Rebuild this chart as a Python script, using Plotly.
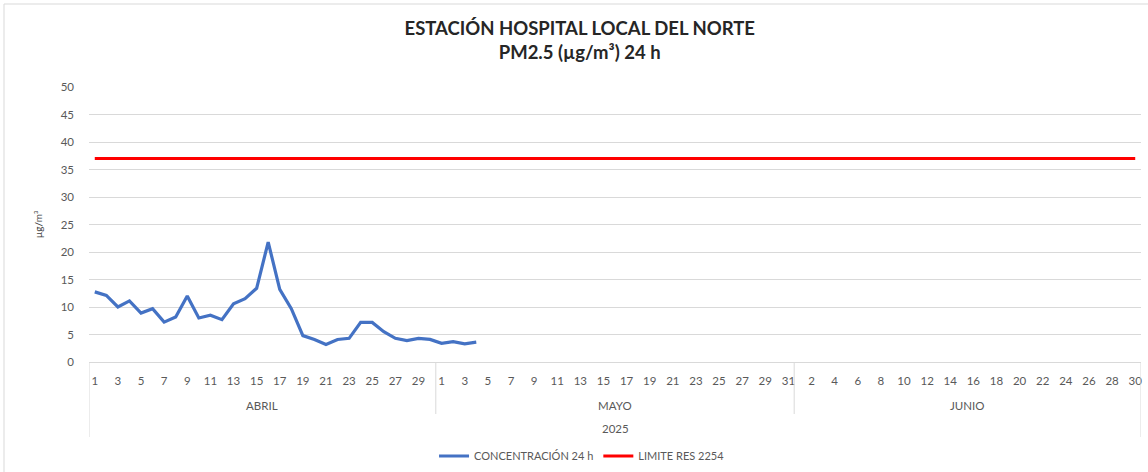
import plotly.graph_objects as go

# ---- data ----
YEAR = "2025"
MONTHS = ["ABRIL", "MAYO", "JUNIO"]
DAYS_IN_MONTH = [30, 31, 30]
CONC_ABRIL = [12.75, 12.1, 10.0, 11.1, 8.9, 9.7, 7.25, 8.2, 12.0, 8.0,
              8.5, 7.7, 10.6, 11.5, 13.4, 21.8, 13.2, 9.7, 4.8, 4.1,
              3.2, 4.1, 4.3, 7.2, 7.2, 5.5, 4.3, 3.9, 4.3, 4.1]
CONC_MAYO = [3.4, 3.7, 3.3, 3.6]
CONC_JUNIO = []
LIMIT_VALUE = 37

# ---- build category axis ----
cats, day_labels = [], []
for m, n in zip(MONTHS, DAYS_IN_MONTH):
    for d in range(1, n + 1):
        cats.append(f"{m}-{d}")
        day_labels.append(str(d))

conc = []
for vals, n in zip([CONC_ABRIL, CONC_MAYO, CONC_JUNIO], DAYS_IN_MONTH):
    conc += list(vals) + [None] * (n - len(vals))
limit = [LIMIT_VALUE] * len(cats)

FONT = "Lato"
GREY = "#595959"
GRID = "#d9d9d9"

fig = go.Figure()
fig.add_trace(go.Scatter(x=cats, y=conc, mode="lines", name="CONCENTRACIÓN 24 h",
                         line=dict(color="#4472C4", width=3.2), connectgaps=False))
fig.add_trace(go.Scatter(x=cats, y=limit, mode="lines", name="LIMITE RES 2254",
                         line=dict(color="#FF0000", width=3.2)))

W, H = 1148, 472
L, R, T, B = 89, 1148 - 1141, 87, 472 - 362
ph = H - T - B

def py(pix):
    return (H - B - pix) / ph

shapes = []
bounds = [-0.5]
acc = -0.5
for n in DAYS_IN_MONTH:
    acc += n
    bounds.append(acc)
for i, b in enumerate(bounds):
    outer = i == 0 or i == len(bounds) - 1
    shapes.append(dict(type="line", xref="x", yref="paper", x0=b, x1=b,
                       y0=0, y1=py(437) if outer else py(414),
                       line=dict(color=GRID, width=1)))
shapes.append(dict(type="rect", xref="paper", yref="paper",
                   x0=(4 - L) / (W - L - R), x1=1.05, y0=-0.6, y1=py(4),
                   line=dict(color=GRID, width=1)))

annotations = []
start = 0
for m, n in zip(MONTHS, DAYS_IN_MONTH):
    center = start + (n - 1) / 2
    annotations.append(dict(x=center, xref="x", y=py(405), yref="paper", text=m,
                            showarrow=False, font=dict(family=FONT, size=11.5, color=GREY),
                            yanchor="middle"))
    start += n
annotations.append(dict(x=(len(cats) - 1) / 2, xref="x", y=py(428), yref="paper", text=YEAR,
                        showarrow=False, font=dict(family=FONT, size=11.5, color=GREY),
                        yanchor="middle"))

fig.update_layout(
    width=W, height=H,
    margin=dict(l=L, r=R, t=T, b=B),
    paper_bgcolor="white", plot_bgcolor="white",
    title=dict(text="<b>ESTACIÓN HOSPITAL LOCAL DEL NORTE<br>PM2.5 (µg/m³) 24 h</b>",
               x=0.505, xanchor="center", xref="container",
               y=1 - 35 / H, yanchor="middle", yref="container",
               font=dict(family=FONT, size=18.5, color="#262626")),
    xaxis=dict(type="category", categoryorder="array", categoryarray=cats,
               tickmode="array", tickvals=cats[::2], ticktext=day_labels[::2],
               tickfont=dict(family=FONT, size=11.5, color=GREY), tickangle=0,
               showgrid=False, showline=True, linecolor=GRID, linewidth=1,
               ticks="", ticklabelstandoff=8, range=[-0.5, len(cats) - 0.5]),
    yaxis=dict(range=[0, 50], dtick=5, tickfont=dict(family=FONT, size=11.5, color=GREY),
               gridcolor=GRID, gridwidth=1, zeroline=False, showline=False,
               ticks="", ticklabelstandoff=14,
               title=dict(text="µg/m³", font=dict(family=FONT, size=10, color="#404040"),
                          standoff=16)),
    legend=dict(orientation="h", xref="container", yref="container",
                x=0.507, xanchor="center", y=1 - 456 / H, yanchor="middle",
                font=dict(family=FONT, size=11, color=GREY), itemwidth=30,
                traceorder="normal"),
    shapes=shapes, annotations=annotations,
    showlegend=True,
)

fig.write_html("out.html", config={"displayModeBar": False},
               post_script="document.body.style.margin='0';")
